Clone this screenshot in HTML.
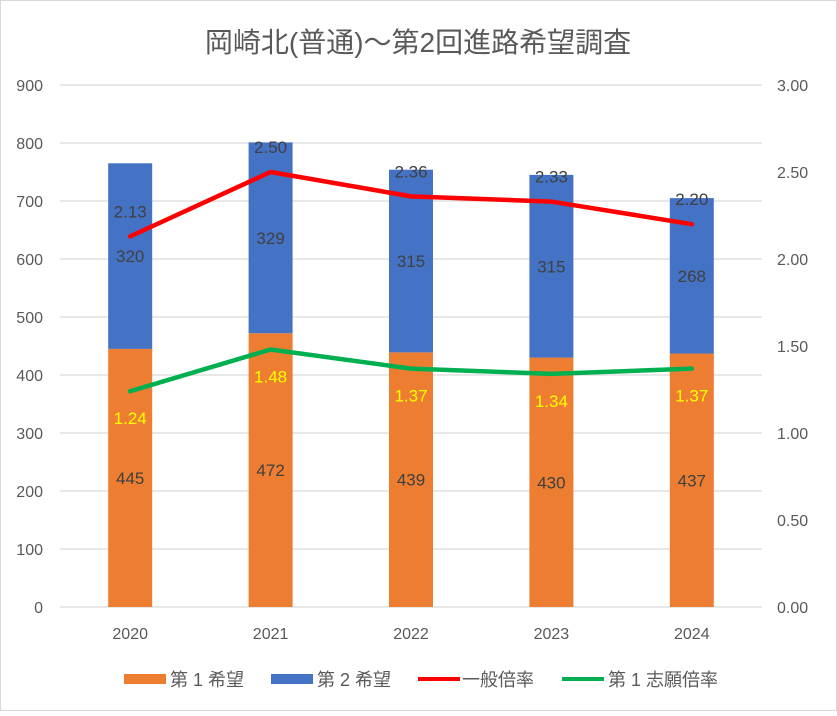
<!DOCTYPE html>
<html><head><meta charset="utf-8"><style>
body{margin:0;background:#fff}
svg text{font-family:"Liberation Sans","Noto Sans CJK JP",sans-serif}
</style></head><body>
<svg id="chart" width="837" height="711" viewBox="0 0 837 711">
<rect x="0.5" y="0.5" width="836" height="710" fill="#fff" stroke="#d9d9d9"/>
<text x="418" y="52" font-size="28" fill="#595959" text-anchor="middle">岡崎北(普通)～第2回進路希望調査</text>
<g id="grid"></g><g id="bars"></g><g id="lines"></g><g id="labels"></g>
<g>
<rect x="124" y="674" width="42" height="10" fill="#ed7d31"/>
<text x="170" y="686" font-size="18" fill="#595959">第 1 希望</text>
<rect x="271" y="674" width="42" height="10" fill="#4472c4"/>
<text x="317" y="686" font-size="18" fill="#595959">第 2 希望</text>
<line x1="418" y1="679" x2="460" y2="679" stroke="#ff0000" stroke-width="4"/>
<text x="462" y="686" font-size="18" fill="#595959">一般倍率</text>
<line x1="562" y1="679" x2="604" y2="679" stroke="#00b050" stroke-width="4"/>
<text x="608" y="686" font-size="18" fill="#595959">第 1 志願倍率</text>
</g>
</svg>
<script>
const years=["2020","2021","2022","2023","2024"];
const first=[445,472,439,430,437];
const second=[320,329,315,315,268];
const general=[2.13,2.50,2.36,2.33,2.20];
const firstRatio=[1.24,1.48,1.37,1.34,1.37];
const leftTicks=[0,100,200,300,400,500,600,700,800,900];
const rightTicks=["0.00","0.50","1.00","1.50","2.00","2.50","3.00"];
const NS="http://www.w3.org/2000/svg";
const y0=607,yTop=85,x0=60,x1=762;
const yL=v=>y0-(v/900)*(y0-yTop);
const yR=v=>y0-(v/3)*(y0-yTop);
const xC=i=>x0+(x1-x0)*(i+0.5)/years.length;
function mk(p,t,a,txt){const e=document.createElementNS(NS,t);for(const k in a)e.setAttribute(k,a[k]);if(txt!==undefined)e.textContent=txt;document.getElementById(p).appendChild(e);return e;}
leftTicks.forEach(v=>{
 const l=mk("grid","line",{x1:x0,x2:x1,y1:yL(v),y2:yL(v),stroke:"#d9d9d9","stroke-width":1.3});
 
 
 const t=mk("grid","text",{x:43,y:yL(v)+6,"font-size":16,fill:"#595959","text-anchor":"end"},v);
 
 
});
rightTicks.forEach(v=>{
 const t=mk("grid","text",{x:777,y:yR(+v)+6,"font-size":16,fill:"#595959"},v);
 
 
});
const bw=44;
years.forEach((yr,i)=>{
 const c=xC(i);
 const b1=mk("bars","rect",{x:c-bw/2,y:yL(first[i]),width:bw,height:y0-yL(first[i]),fill:"#ed7d31"});
 
 
 const b2=mk("bars","rect",{x:c-bw/2,y:yL(first[i]+second[i]),width:bw,height:yL(first[i])-yL(first[i]+second[i]),fill:"#4472c4"});
 
 
 const xl=mk("labels","text",{x:c,y:639,"font-size":16,fill:"#595959","text-anchor":"middle"},yr);
 
 
 const l1=mk("labels","text",{x:c,y:(yL(first[i])+y0)/2+6,"font-size":17,fill:"#404040","text-anchor":"middle"},first[i]);
 
 
 const l2=mk("labels","text",{x:c,y:(yL(first[i])+yL(first[i]+second[i]))/2+6,"font-size":17,fill:"#404040","text-anchor":"middle"},second[i]);
 
 
 const l3=mk("labels","text",{x:c,y:yR(general[i])-19,"font-size":17,fill:"#404040","text-anchor":"middle"},general[i].toFixed(2));
 
 
 const l4=mk("labels","text",{x:c,y:yR(firstRatio[i])+33,"font-size":17,fill:"#ffff00","text-anchor":"middle"},firstRatio[i].toFixed(2));
 
 
});
const g=mk("lines","polyline",{points:general.map((v,i)=>xC(i)+","+yR(v)).join(" "),fill:"none",stroke:"#ff0000","stroke-width":4.5,"stroke-linecap":"round","stroke-linejoin":"round"});


const f=mk("lines","polyline",{points:firstRatio.map((v,i)=>xC(i)+","+yR(v)).join(" "),fill:"none",stroke:"#00b050","stroke-width":4.5,"stroke-linecap":"round","stroke-linejoin":"round"});


</script>
</body></html>
